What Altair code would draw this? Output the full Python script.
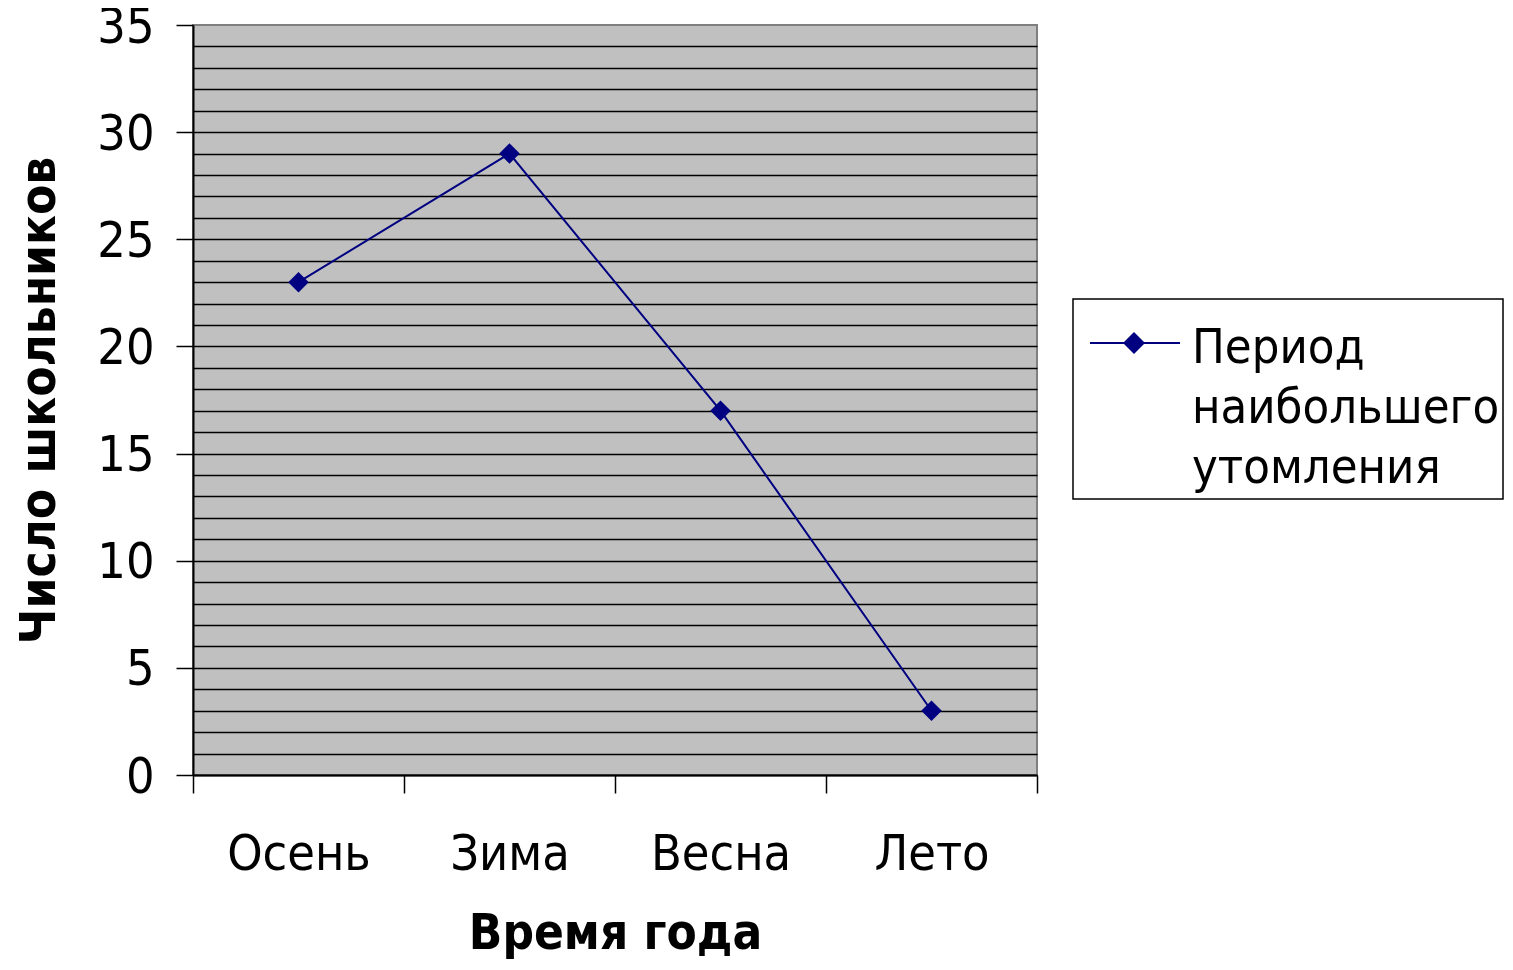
import altair as alt
import pandas as pd

seasons = ["Осень", "Зима", "Весна", "Лето"]
counts = [23, 29, 17, 3]
series_name = "Период наибольшего утомления"
legend_lines = ["Период", "наибольшего", "утомления"]
y_ticks = list(range(0, 36))

df = pd.DataFrame({"season": seasons, "count": counts, "series": [series_name] * len(seasons)})
legend_df = pd.DataFrame({"series": [series_name]})

FONT = "DejaVu Sans Condensed, DejaVu Sans"
NAVY = "#000080"

base = alt.Chart(df)

x = alt.X(
    "season:N",
    sort=seasons,
    scale=alt.Scale(type="band", paddingInner=0, paddingOuter=0),
    axis=alt.Axis(
        title="Время года",
        tickBand="extent",
        labelAngle=0,
        labelFont=FONT,
        labelFontSize=50,
        labelColor="black",
        labelPadding=36,
        tickSize=18,
        tickColor="black",
        tickWidth=1.5,
        domainColor="black",
        domainWidth=2,
        titleFont=FONT,
        titleFontSize=49,
        titleFontWeight="bold",
        titleColor="black",
        titlePadding=30,
    ),
)

y = alt.Y(
    "count:Q",
    scale=alt.Scale(domain=[0, 35], nice=False, zero=True),
    axis=alt.Axis(
        title="Число школьников",
        values=y_ticks,
        grid=True,
        gridColor="black",
        gridWidth=1.5,
        gridOpacity=alt.condition("datum.value === 35", alt.value(0), alt.value(1)),
        labelExpr="datum.value % 5 === 0 ? datum.label : ''",
        labelOverlap=False,
        labelFlush=False,
        labelFont=FONT,
        labelFontSize=50,
        labelColor="black",
        labelPadding=22,
        labelOffset=2,
        tickSize=17,
        tickColor="black",
        tickWidth=1.5,
        tickOpacity=alt.condition("datum.value % 5 === 0", alt.value(1), alt.value(0)),
        domainColor="black",
        domainWidth=2,
        titleFont=FONT,
        titleFontSize=49,
        titleFontWeight="bold",
        titleColor="black",
        titlePadding=32,
    ),
)

color = alt.Color("series:N", scale=alt.Scale(range=[NAVY]), legend=None)

line = base.mark_line(strokeWidth=2).encode(x=x, y=y, color=color)
pts = base.mark_point(shape="diamond", filled=True, size=420, opacity=1).encode(x=x, y=y, color=color)

# legend (drawn beside the plot)
lg = alt.Chart(legend_df)
lg_box = lg.mark_rect(fill="white", stroke="black", strokeWidth=1.5).encode(
    x=alt.value(880), x2=alt.value(1310), y=alt.value(274), y2=alt.value(474)
)
lg_line = lg.mark_rule(color=NAVY, strokeWidth=2).encode(
    x=alt.value(897), x2=alt.value(987), y=alt.value(318)
)
lg_pt = lg.mark_point(shape="diamond", filled=True, size=484, color=NAVY, opacity=1).encode(
    x=alt.value(941), y=alt.value(318)
)
lg_text = lg.mark_text(
    align="left", baseline="alphabetic", font=FONT, fontSize=48.5, lineHeight=60, color="black"
).encode(x=alt.value(999), y=alt.value(338), text=alt.value(legend_lines))

chart = (
    alt.layer(line, pts, lg_box, lg_line, lg_pt, lg_text)
    .properties(
        width=844,
        height=750,
        background="white",
        autosize=alt.AutoSizeParams(type="none"),
        padding={"left": 185, "top": 17, "right": 468, "bottom": 187},
    )
    .configure_view(fill="#C0C0C0", stroke="#808080", strokeWidth=2)
)

chart.save("out.html", embed_options={"renderer": "svg", "actions": False})
